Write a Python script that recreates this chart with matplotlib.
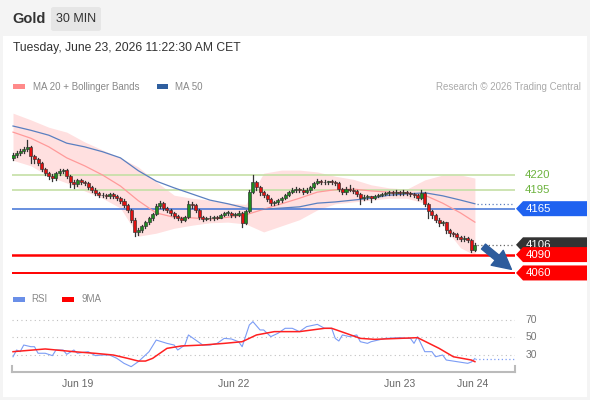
import matplotlib
matplotlib.use("Agg")
import matplotlib.pyplot as plt
import matplotlib.transforms as mtransforms
from matplotlib.patches import Rectangle, Polygon, FancyBboxPatch

plt.rcParams['font.family'] = ['Liberation Sans', 'DejaVu Sans']

# 30 min candles, close prices (open = previous close)
first_open = 4248
closes = [4253, 4256, 4259, 4262, 4266, 4251, 4246, 4240, 4230, 4223,
          4218, 4215, 4223, 4226, 4228, 4218, 4209, 4205, 4212, 4209,
          4207, 4200, 4196, 4191, 4187, 4187, 4186, 4189, 4186, 4182,
          4178, 4171, 4163, 4147, 4127, 4130, 4137, 4143, 4150, 4156,
          4169, 4174, 4166, 4163, 4158, 4153, 4150, 4147, 4151, 4173,
          4171, 4163, 4151, 4148, 4150, 4149, 4151, 4150, 4155, 4158,
          4158, 4155, 4155, 4158, 4142, 4161, 4192, 4209, 4200, 4192,
          4187, 4181, 4174, 4176, 4179, 4182, 4187, 4192, 4196, 4197,
          4196, 4192, 4196, 4200, 4207, 4210, 4209, 4208, 4210, 4209,
          4207, 4197, 4192, 4197, 4196, 4194, 4189, 4182, 4184, 4185,
          4182, 4186, 4187, 4189, 4190, 4192, 4191, 4193, 4191, 4192,
          4190, 4189, 4187, 4182, 4191, 4173, 4161, 4155, 4147, 4142,
          4143, 4130, 4125, 4124, 4119, 4115, 4117, 4114, 4098, 4106]
highs = [4256, 4259, 4262, 4265, 4277, 4268, 4253, 4248, 4242, 4232,
         4225, 4221, 4225, 4229, 4230, 4230, 4220, 4212, 4214, 4214,
         4211, 4209, 4202, 4198, 4193, 4190, 4189, 4191, 4191, 4188,
         4184, 4180, 4173, 4165, 4149, 4133, 4139, 4145, 4152, 4158,
         4172, 4177, 4176, 4168, 4165, 4160, 4155, 4152, 4153, 4178,
         4176, 4173, 4165, 4153, 4152, 4153, 4153, 4153, 4157, 4160,
         4161, 4160, 4158, 4161, 4160, 4163, 4195, 4220, 4211, 4202,
         4194, 4189, 4183, 4178, 4181, 4184, 4189, 4194, 4198, 4200,
         4199, 4198, 4198, 4202, 4209, 4213, 4212, 4212, 4211, 4212,
         4211, 4209, 4199, 4200, 4204, 4199, 4196, 4191, 4187, 4187,
         4186, 4188, 4189, 4191, 4193, 4194, 4194, 4195, 4194, 4195,
         4194, 4193, 4191, 4189, 4196, 4193, 4175, 4163, 4157, 4149,
         4145, 4144, 4132, 4127, 4126, 4121, 4120, 4119, 4116, 4109]
lows = [4245, 4250, 4253, 4256, 4259, 4240, 4240, 4237, 4227, 4220,
        4214, 4210, 4212, 4220, 4223, 4215, 4200, 4198, 4202, 4206,
        4204, 4197, 4193, 4188, 4184, 4184, 4183, 4183, 4183, 4179,
        4175, 4168, 4160, 4144, 4120, 4122, 4127, 4134, 4140, 4147,
        4154, 4166, 4163, 4160, 4155, 4150, 4147, 4144, 4145, 4149,
        4166, 4160, 4148, 4145, 4146, 4147, 4147, 4148, 4149, 4153,
        4155, 4152, 4152, 4153, 4135, 4140, 4159, 4190, 4196, 4188,
        4184, 4178, 4171, 4171, 4173, 4176, 4180, 4185, 4190, 4193,
        4193, 4189, 4190, 4193, 4198, 4205, 4206, 4206, 4206, 4206,
        4204, 4194, 4189, 4189, 4194, 4190, 4185, 4172, 4179, 4181,
        4176, 4180, 4184, 4185, 4187, 4188, 4188, 4188, 4188, 4188,
        4187, 4186, 4184, 4179, 4180, 4170, 4150, 4150, 4144, 4137,
        4138, 4126, 4120, 4121, 4116, 4112, 4112, 4111, 4095, 4096]

# moving averages / bands read at every 5th candle
ma_idx = [0, 5, 10, 15, 20, 25, 30, 35, 40, 45, 50, 55, 60, 65, 70, 75,
          80, 85, 90, 95, 100, 105, 110, 115, 120, 125, 129]
ma20 = [4290, 4280, 4266, 4248, 4235, 4220, 4202, 4178, 4158, 4151, 4150, 4148, 4151, 4155,
        4164, 4173, 4182, 4192, 4196, 4197, 4194, 4192, 4191, 4187, 4174, 4158, 4143]
ma50 = [4300, 4293, 4285, 4272, 4266, 4258, 4248, 4227, 4210, 4199, 4189, 4179, 4173, 4166,
        4164, 4166, 4168, 4174, 4176, 4179, 4182, 4187, 4189, 4191, 4186, 4179, 4173]
bb_up = [4321, 4310, 4298, 4290, 4274, 4261, 4248, 4233, 4209, 4187, 4182, 4179, 4174, 4172,
         4223, 4228, 4228, 4225, 4218, 4213, 4204, 4199, 4197, 4212, 4220, 4220, 4215]
bb_lo = [4244, 4235, 4218, 4207, 4194, 4182, 4166, 4120, 4125, 4133, 4138, 4142, 4143, 4140,
         4127, 4137, 4147, 4163, 4173, 4176, 4179, 4182, 4182, 4174, 4138, 4101, 4089]

# key levels
resist = [4220, 4195]
pivot = 4165
support = [4090, 4060]

# RSI panel
rsi_idx = [0, 1, 2, 3, 5, 6, 7, 9, 11, 12, 14, 15, 17, 18, 21, 23, 25, 27, 29, 31,
           33, 35, 36, 38, 40, 43, 45, 46, 48, 49, 51, 53, 55, 57, 59, 61, 63, 64, 66, 67,
           69, 70, 72, 74, 76, 78, 80, 82, 85, 87, 89, 90, 91, 92, 94, 96, 97, 99, 100, 102,
           104, 108, 110, 111, 112, 113, 115, 117, 118, 120, 121, 124, 127, 128, 129]
rsi_val = [28, 35.7, 33.8, 41.4, 39.5, 39.5, 32, 32, 29.3, 35.7,
           35.7, 30.8, 35.7, 32, 33.8, 29.3, 30, 30, 26.2, 20.5,
           16.7, 22.4, 26.2, 33.8, 47.1, 43.3, 41.4, 35.7, 41.4, 52.9,
           47.1, 41.4, 41.4, 43.3, 49, 48.3, 45.2, 39.5, 64.3, 68.1,
           58.6, 58.6, 51, 54.8, 60.5, 60.5, 56.7, 62.4, 65, 60.5,
           60.5, 49, 46, 52.9, 51, 52.9, 45.2, 43.3, 45.2, 47.1,
           49, 49.8, 49, 49, 43.3, 50.9, 33.8, 33.8, 28, 30,
           24.3, 22.4, 20.5, 22, 26]
ma9_idx = [0, 9, 17, 23, 28, 32, 35, 37, 39, 43, 47, 53, 59, 64, 68, 73, 80, 87, 89, 93,
           97, 101, 108, 113, 119, 123, 128, 129]
ma9_val = [33.8, 36.9, 33.8, 31.9, 30, 26.2, 23.1, 23.1, 26.2, 37.6, 40.3, 41.4, 43.3, 45.2,
           52.9, 56.7, 56.7, 60.5, 60.5, 54.8, 49, 47.9, 49, 49.8, 37.6, 28, 24.3, 22.4]
rsi_levels = [70, 50, 30]

tick_labels = ['Jun 19', 'Jun 22', 'Jun 23', 'Jun 24']
tick_idx = [18, 61.5, 108, 128.5]

W, H = 590, 400
fig = plt.figure(figsize=(W / 100, H / 100), dpi=100, facecolor='#f4f4f4')


def fx(px):
    return px / W


def fy(py):
    return 1 - py / H


fig.patches.append(Rectangle((fx(3), fy(397)), fx(584), (397 - 36) / H, transform=fig.transFigure,
                             facecolor='white', edgecolor='none', zorder=-5))

# header
fig.text(fx(12), fy(19), 'Gold', fontsize=10.5, fontweight='bold', color='#333333', va='center')
fig.patches.append(FancyBboxPatch((fx(51), fy(31)), fx(50), 24 / H, transform=fig.transFigure,
                                  boxstyle='round,pad=0,rounding_size=0.005',
                                  facecolor='#e6e6e6', edgecolor='none', zorder=-4))
fig.text(fx(76), fy(19), '30 MIN', fontsize=9, color='#333333', va='center', ha='center')
fig.text(fx(13), fy(48), 'Tuesday, June 23, 2026 11:22:30 AM CET', fontsize=8.7, color='#333333', va='center')

# legends
def swatch(x0, y0, x1, y1, c):
    fig.patches.append(Rectangle((fx(x0), fy(y1)), fx(x1 - x0), (y1 - y0) / H,
                                 transform=fig.transFigure, facecolor=c, edgecolor='none', zorder=-4))


swatch(13, 84, 25, 89, '#ff8a8a')
fig.text(fx(33), fy(86.5), 'MA 20 + Bollinger Bands', fontsize=7, color='#888888', va='center')
swatch(157, 84, 168, 89, '#2f5f9f')
fig.text(fx(175), fy(86.5), 'MA 50', fontsize=7, color='#888888', va='center')
fig.text(fx(581), fy(86.5), 'Research \u00a9 2026 Trading Central', fontsize=7, color='#aaaaaa',
         va='center', ha='right')
swatch(13, 297, 25, 302, '#6a8fe8')
fig.text(fx(31), fy(299.5), 'RSI', fontsize=7, color='#888888', va='center')
swatch(62, 297, 74, 302, '#ff0000')
fig.text(fx(82), fy(299.5), '9MA', fontsize=7, color='#888888', va='center')

# main price panel
ax = fig.add_axes([fx(12), fy(283), fx(515) - fx(12), (283 - 100) / H])
ax.set_zorder(2)
y0, y1 = 4043.6, 4342.5
xl = (-0.28, 140.2)
ax.set_xlim(*xl)
ax.set_ylim(y0, y1)
ax.set_autoscale_on(False)
ax.axis('off')
ppx = (y1 - y0) / 183.0

ax.fill_between(ma_idx, bb_lo, bb_up, color='#ffe0e0', lw=0, zorder=1)
for r in resist:
    ax.axhline(r, color='#c5dfa6', lw=1.2, zorder=2)
ax.axhline(pivot, color='#3f72d6', lw=1.1, zorder=2)
ax.axhline(support[0], color='#ff0000', lw=1.8, zorder=2)
ax.axhline(support[1], color='#ff0000', lw=1.4, zorder=2)
ax.plot(ma_idx, ma20, color='#ff9a9a', lw=0.9, zorder=3)
ax.plot(ma_idx, ma50, color='#5a7fc0', lw=0.9, zorder=3)

N = len(closes)
opens = [first_open] + closes[:-1]
for i in range(N):
    o, c = opens[i], closes[i]
    hi = max(highs[i], o, c)
    lo = min(lows[i], o, c)
    ax.plot([i, i], [lo, hi], color='#333333', lw=0.9, zorder=4)
    col = '#1f8a1f' if c >= o else '#e01010'
    ax.add_patch(Rectangle((i - 0.42, min(o, c)), 0.84, max(abs(c - o), 1.0),
                           facecolor=col, edgecolor='#333333', lw=0.45, zorder=5))

ax.plot([N - 0.5, xl[1]], [closes[-1]] * 2, ls=(0, (1, 2)), color='#666666', lw=0.9, zorder=3)
ax.plot([N - 0.5, xl[1]], [ma50[-1]] * 2, ls=(0, (1, 2)), color='#5a7fc0', lw=0.9, zorder=3)

ax.annotate('', xy=(139.8, support[1] + 3), xytext=(N + 0.8, closes[-1]),
            arrowprops=dict(arrowstyle='simple,head_length=1.1,head_width=1.15,tail_width=0.38',
                            color='#2d5c9c', mutation_scale=12),
            annotation_clip=False, zorder=8)

trans = mtransforms.blended_transform_factory(fig.transFigure, ax.transData)
z = [10]


def tag(price, label, fc, tc='white'):
    h = 7.5 * ppx
    pts = [(fx(516), price), (fx(523), price + h), (fx(587), price + h),
           (fx(587), price - h), (fx(523), price - h)]
    ax.add_patch(Polygon(pts, closed=True, transform=trans, facecolor=fc, edgecolor='none',
                         clip_on=False, zorder=z[0]))
    ax.text(fx(526), price, label, transform=trans, color=tc, fontsize=8.2, va='center',
            ha='left', clip_on=False, zorder=z[0] + 1)
    z[0] += 2


for r in resist:
    ax.text(fx(525), r, str(r), transform=trans, color='#6db33f', fontsize=8.2, va='center',
            ha='left', clip_on=False)
tag(pivot, str(pivot), '#1f62f0')
tag(closes[-1], str(closes[-1]), '#333333')
tag(support[0], str(support[0]), '#ff0000')
tag(support[1], str(support[1]), '#ff0000')

# RSI panel
rax = fig.add_axes([fx(12), fy(372), fx(515) - fx(12), 62 / H])
rax.set_zorder(2)
rax.patch.set_visible(False)
rax.set_xlim(*xl)
rax.set_ylim(10.6, 81.4)
for s in ['top', 'left', 'right']:
    rax.spines[s].set_visible(False)
rax.spines['bottom'].set_color('#bbbbbb')
rax.spines['bottom'].set_linewidth(1.5)
for xe in (0, 1):
    rax.plot([xe, xe], [0, 0.1], transform=rax.transAxes, color='#bbbbbb', lw=1.5, clip_on=False)
rtrans = mtransforms.blended_transform_factory(fig.transFigure, rax.transData)
for v in rsi_levels:
    rax.axhline(v, color='#c0c0c0', ls=(0, (1, 3)), lw=0.8)
    rax.text(fx(531), v, str(v), transform=rtrans, color='#777777', fontsize=7.5,
             va='center', ha='center', clip_on=False)
rax.plot(rsi_idx, rsi_val, color='#7b9cf5', lw=0.8)
rax.plot(ma9_idx, ma9_val, color='#ff2020', lw=1.1)
rax.plot([rsi_idx[-1], xl[1]], [rsi_val[-1]] * 2, ls=(0, (1, 2)), color='#7b9cf5', lw=0.9)
rax.set_yticks([])
rax.set_xticks(tick_idx)
rax.set_xticklabels(tick_labels, fontsize=7.5, color='#666666')
rax.tick_params(axis='x', length=0, pad=5)

fig.savefig('out.png', dpi=100, facecolor=fig.get_facecolor())
